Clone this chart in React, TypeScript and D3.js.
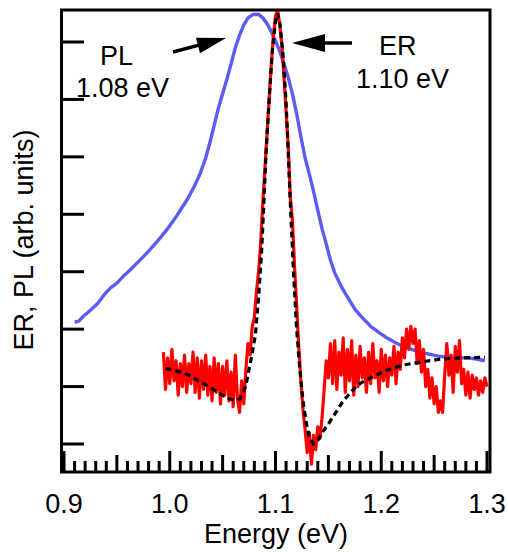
import * as d3 from "d3";

// PL spectrum (energy eV, arb. units)
const PL_DATA: [number, number][] = [
  [0.91, 2.12], [0.914, 2.14], [0.918, 2.22], [0.925, 2.33], [0.932, 2.45], [0.938, 2.6],
  [0.944, 2.72], [0.95, 2.8], [0.956, 2.92], [0.962, 3.02], [0.969, 3.15], [0.976, 3.28],
  [0.983, 3.42], [0.991, 3.59], [0.998, 3.75], [1.005, 3.93], [1.011, 4.1], [1.017, 4.27],
  [1.023, 4.48], [1.029, 4.72], [1.034, 4.98], [1.038, 5.25], [1.042, 5.55], [1.046, 5.85],
  [1.05, 6.1], [1.054, 6.35], [1.058, 6.62], [1.062, 6.9], [1.066, 7.12], [1.07, 7.3],
  [1.074, 7.42], [1.079, 7.48], [1.084, 7.48], [1.088, 7.42], [1.092, 7.32], [1.096, 7.18],
  [1.1, 7.02], [1.104, 6.84], [1.108, 6.62], [1.112, 6.38], [1.116, 6.1], [1.12, 5.75],
  [1.124, 5.35], [1.128, 4.98], [1.132, 4.7], [1.136, 4.4], [1.14, 4.07], [1.144, 3.75],
  [1.148, 3.48], [1.152, 3.2], [1.156, 2.98], [1.162, 2.75], [1.168, 2.56], [1.175, 2.35],
  [1.182, 2.2], [1.19, 2.05], [1.198, 1.94], [1.206, 1.84], [1.214, 1.76], [1.222, 1.69],
  [1.23, 1.64], [1.238, 1.6], [1.246, 1.56], [1.254, 1.53], [1.263, 1.51], [1.272, 1.5],
  [1.282, 1.5], [1.29, 1.48], [1.298, 1.45],
];

// ER spectrum (measured, noisy)
const ER_DATA: [number, number][] = [
  [0.994, 1.6], [0.996, 0.95], [0.998, 1.5], [1.0, 1.05], [1.002, 1.65], [1.004, 1.1],
  [1.006, 1.45], [1.008, 0.85], [1.01, 1.4], [1.012, 1.0], [1.014, 1.55], [1.016, 0.9],
  [1.018, 1.4], [1.02, 1.05], [1.022, 1.6], [1.024, 0.9], [1.026, 1.5], [1.028, 0.8],
  [1.03, 1.45], [1.032, 0.95], [1.034, 1.55], [1.036, 0.85], [1.038, 1.35], [1.04, 0.75],
  [1.042, 1.5], [1.044, 0.9], [1.046, 1.4], [1.048, 0.7], [1.05, 1.35], [1.052, 0.85],
  [1.054, 1.45], [1.056, 0.75], [1.058, 1.25], [1.06, 0.65], [1.062, 1.55], [1.064, 0.8],
  [1.066, 0.55], [1.068, 1.1], [1.07, 0.7], [1.072, 1.3], [1.074, 1.75], [1.076, 1.55],
  [1.078, 2.05], [1.08, 2.2], [1.082, 2.65], [1.084, 3.0], [1.086, 3.5], [1.088, 4.2],
  [1.09, 4.8], [1.092, 5.4], [1.094, 6.0], [1.096, 6.6], [1.098, 7.1], [1.1, 7.45],
  [1.102, 7.55], [1.104, 7.3], [1.106, 6.95], [1.108, 6.4], [1.11, 5.8], [1.112, 5.2],
  [1.114, 4.3], [1.116, 3.9], [1.118, 3.1], [1.12, 2.4], [1.122, 1.7], [1.124, 1.1],
  [1.126, 0.6], [1.128, 0.25], [1.13, -0.15], [1.132, 0.2], [1.134, -0.35], [1.136, 0.15],
  [1.138, -0.1], [1.14, 0.3], [1.142, 0.1], [1.144, 0.45], [1.146, 0.95], [1.148, 1.45],
  [1.15, 1.15], [1.152, 1.75], [1.154, 1.05], [1.156, 1.8], [1.158, 0.95], [1.16, 1.6],
  [1.162, 1.2], [1.164, 1.85], [1.166, 0.9], [1.168, 1.65], [1.17, 1.1], [1.172, 1.8],
  [1.174, 0.85], [1.176, 1.55], [1.178, 1.0], [1.18, 1.7], [1.182, 1.15], [1.184, 1.5],
  [1.186, 0.9], [1.188, 1.6], [1.19, 1.05], [1.192, 1.75], [1.194, 1.15], [1.196, 1.45],
  [1.198, 0.9], [1.2, 1.65], [1.202, 1.1], [1.204, 1.55], [1.206, 1.0], [1.208, 1.5],
  [1.21, 1.2], [1.212, 1.7], [1.214, 1.05], [1.216, 1.6], [1.218, 1.3], [1.22, 1.85],
  [1.222, 1.5], [1.224, 2.0], [1.226, 1.65], [1.228, 2.05], [1.23, 1.75], [1.232, 2.0],
  [1.234, 1.4], [1.236, 1.8], [1.238, 1.25], [1.24, 1.65], [1.242, 1.0], [1.244, 1.3],
  [1.246, 0.8], [1.248, 1.15], [1.25, 0.7], [1.252, 1.0], [1.254, 0.55], [1.256, 0.75],
  [1.258, 0.55], [1.26, 1.2], [1.262, 1.75], [1.264, 1.2], [1.266, 1.55], [1.268, 0.9],
  [1.27, 1.7], [1.272, 1.25], [1.274, 1.8], [1.276, 1.05], [1.278, 1.3], [1.28, 0.85],
  [1.282, 1.25], [1.284, 0.8], [1.286, 1.2], [1.288, 0.95], [1.29, 1.15], [1.292, 0.85],
  [1.294, 1.1], [1.296, 0.9], [1.298, 1.15], [1.3, 1.0],
];

// ER line-shape fit
const FIT_DATA: [number, number][] = [
  [0.996, 1.32], [1.005, 1.28], [1.013, 1.24], [1.021, 1.17], [1.029, 1.08], [1.037, 1.0],
  [1.045, 0.91], [1.051, 0.84], [1.057, 0.78], [1.062, 0.76], [1.066, 0.78], [1.069, 0.88],
  [1.072, 1.02], [1.075, 1.3], [1.078, 1.58], [1.081, 1.9], [1.084, 2.55], [1.087, 3.4],
  [1.089, 4.2], [1.091, 5.05], [1.094, 6.0], [1.097, 6.85], [1.1, 7.35], [1.102, 7.5],
  [1.104, 7.35], [1.107, 6.8], [1.11, 5.95], [1.112, 5.1], [1.114, 4.2], [1.117, 3.0],
  [1.12, 2.0], [1.123, 1.3], [1.126, 0.75], [1.129, 0.38], [1.132, 0.12], [1.136, 0.0],
  [1.14, 0.06], [1.145, 0.22], [1.15, 0.35], [1.156, 0.52], [1.163, 0.72], [1.17, 0.88],
  [1.178, 1.03], [1.186, 1.12], [1.195, 1.2], [1.206, 1.29], [1.222, 1.38], [1.238, 1.43],
  [1.257, 1.48], [1.276, 1.5], [1.298, 1.51],
];

const X_LABELS = [0.9, 1.0, 1.1, 1.2, 1.3];
const Y_TICKS = [0, 1, 2, 3, 4, 5, 6, 7];

const FONT = "'Liberation Sans', Arial, Helvetica, sans-serif";

function Arrow({ from, to, len, half }: { from: number[]; to: number[]; len: number; half: number }) {
  const dx = to[0] - from[0];
  const dy = to[1] - from[1];
  const d = Math.hypot(dx, dy);
  const ux = dx / d;
  const uy = dy / d;
  const bx = to[0] - ux * len;
  const by = to[1] - uy * len;
  const pts = [
    [to[0], to[1]],
    [bx - uy * half, by + ux * half],
    [bx + uy * half, by - ux * half],
  ];
  return (
    <g>
      <line x1={from[0]} y1={from[1]} x2={bx + ux * 2} y2={by + uy * 2} stroke="#000" strokeWidth={3.5} />
      <polygon points={pts.map((p) => p.join(",")).join(" ")} fill="#000" />
    </g>
  );
}

export default function App() {
  const width = 508;
  const height = 552;
  const frame = { left: 61.5, right: 490, top: 10, bottom: 472 };

  const x = d3.scaleLinear().domain([0.9, 1.3]).range([64, 487]);
  const y = d3.scaleLinear().domain([0, 7]).range([444, 42]);

  const line = d3
    .line<[number, number]>()
    .x((d) => x(d[0]))
    .y((d) => y(d[1]));

  const minor = d3.range(0, 41).map((i) => 0.9 + i * 0.01);

  return (
    <svg
      width={width}
      height={height}
      style={{ position: "absolute", left: 0, top: 0, background: "#fff" }}
      fontFamily={FONT}
    >
      {/* curves */}
      <path d={line(PL_DATA) ?? ""} fill="none" stroke="#5c5cf4" strokeWidth={3.4} strokeLinejoin="round" />
      <path d={line(ER_DATA) ?? ""} fill="none" stroke="#ff0000" strokeWidth={3.2} strokeLinejoin="round" />
      <path
        d={line(FIT_DATA) ?? ""}
        fill="none"
        stroke="#000"
        strokeWidth={3.2}
        strokeDasharray="6,4"
      />

      {/* frame */}
      <rect
        x={frame.left}
        y={frame.top}
        width={frame.right - frame.left}
        height={frame.bottom - frame.top}
        fill="none"
        stroke="#000"
        strokeWidth={3}
      />

      {/* y ticks */}
      {Y_TICKS.map((t) => (
        <line key={t} x1={frame.left} x2={84} y1={y(t)} y2={y(t)} stroke="#000" strokeWidth={3} />
      ))}

      {/* x ticks */}
      {minor.map((t, i) => {
        const len = i % 10 === 0 ? 21 : i % 5 === 0 ? 17 : 11;
        return (
          <line
            key={i}
            x1={x(t)}
            x2={x(t)}
            y1={frame.bottom}
            y2={frame.bottom - len}
            stroke="#000"
            strokeWidth={3}
          />
        );
      })}
      {X_LABELS.map((t) => (
        <text key={t} x={x(t)} y={513} textAnchor="middle" fontSize={27}>
          {d3.format(".1f")(t)}
        </text>
      ))}

      <text x={276} y={543} textAnchor="middle" fontSize={27}>
        Energy (eV)
      </text>
      <text transform="translate(33,240) rotate(-90)" textAnchor="middle" fontSize={27}>
        ER, PL (arb. units)
      </text>

      {/* annotations */}
      <text x={100} y={65} fontSize={27}>PL</text>
      <text x={76} y={97} fontSize={27}>1.08 eV</text>
      <text x={379} y={55} fontSize={27}>ER</text>
      <text x={356} y={88} fontSize={27}>1.10 eV</text>
      <Arrow from={[173, 52]} to={[226, 38]} len={29} half={8} />
      <Arrow from={[352, 43]} to={[292, 43]} len={33} half={9} />
    </svg>
  );
}
